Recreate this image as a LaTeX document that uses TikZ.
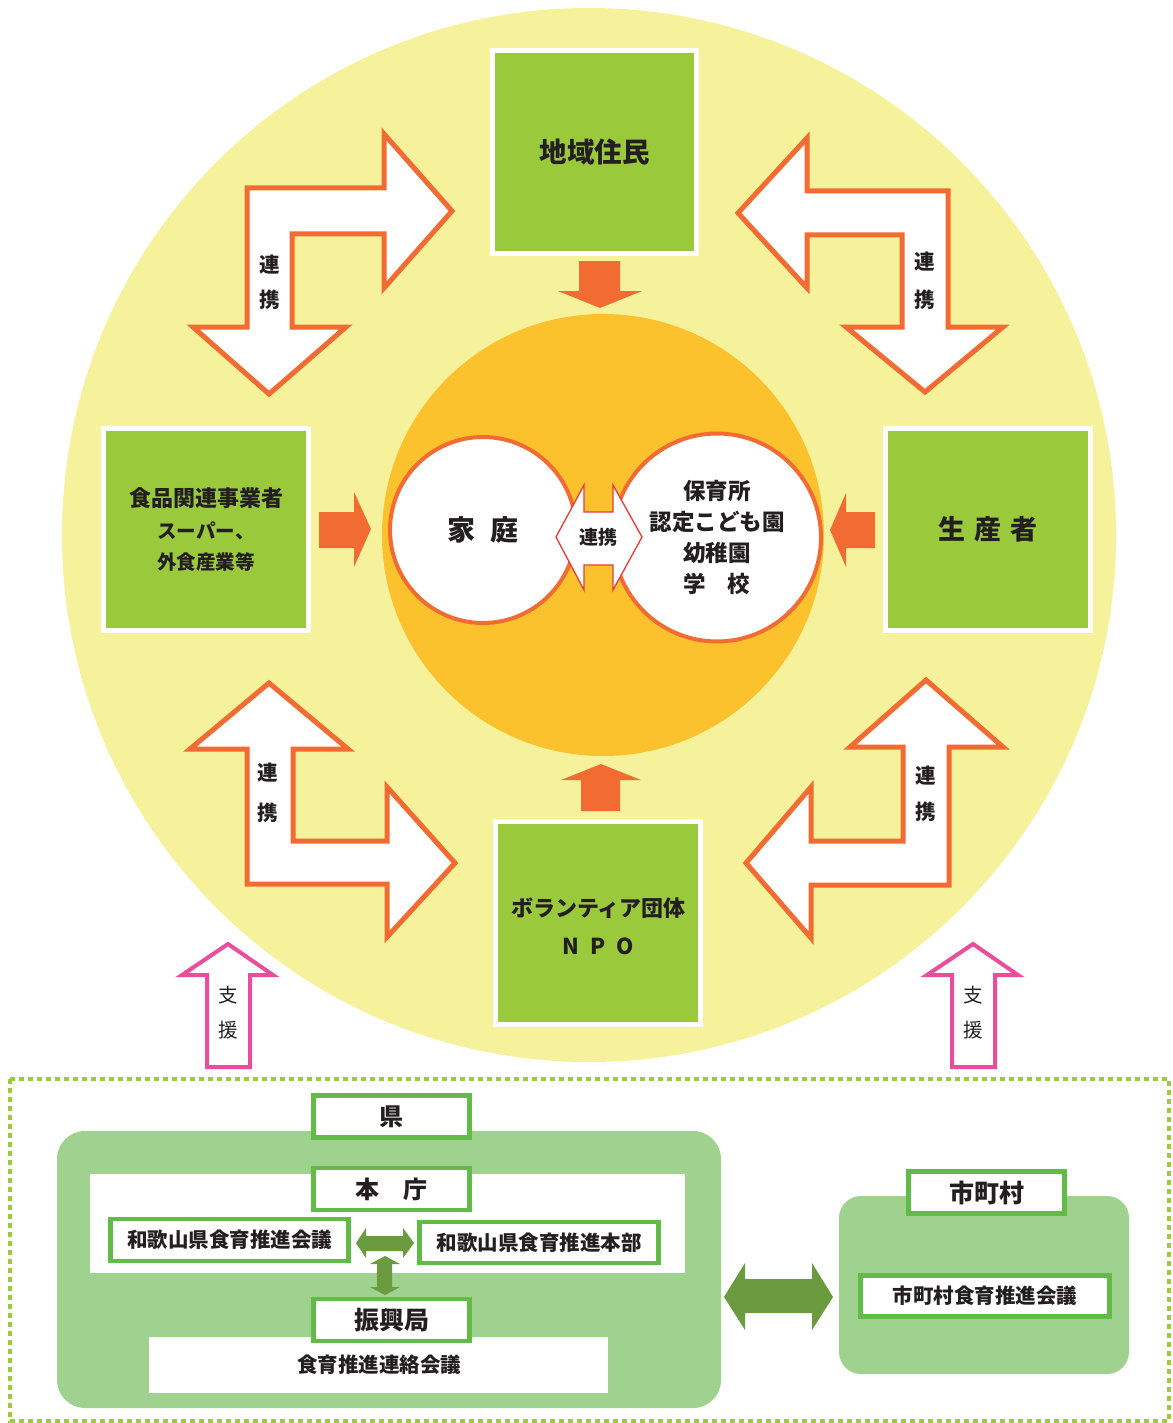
\documentclass[tikz,border=0pt]{standalone}
\usepackage{fontspec}
\newfontfamily\jp{Noto Sans CJK JP}
\definecolor{bigyellow}{HTML}{F6F19B}
\definecolor{sunorange}{HTML}{FCC22E}
\definecolor{edgeorange}{HTML}{F26B32}
\definecolor{boxgreen}{HTML}{9BC93C}
\definecolor{supportpink}{HTML}{E94D9B}
\definecolor{regiongreen}{HTML}{A0D28F}
\definecolor{framegreen}{HTML}{62BA47}
\definecolor{darkgreen}{HTML}{6A9B3F}
\definecolor{dashgreen}{HTML}{9CCB3B}
\definecolor{linkred}{HTML}{E83838}
\definecolor{ink}{HTML}{231F20}
\tikzset{
  greenbox/.style={draw=white, fill=boxgreen, line width=5pt, inner sep=0pt, text=ink, align=center},
  ring/.style={circle, draw=edgeorange, fill=white, line width=4pt, inner sep=0pt, text=ink, align=center},
  larrow/.style={draw=edgeorange, fill=white, line width=5pt, line join=miter},
  blockarrow/.style={fill=edgeorange},
  pinkarrow/.style={draw=supportpink, fill=white, line width=4pt, line join=miter},
  framebox/.style={draw=framegreen, fill=white, line width=4.5pt, inner sep=0pt, text=ink},
  gtxt/.style={text=ink, font=\jp\bfseries\fontsize{20.5}{22}\selectfont},
  stxt/.style={text=ink, font=\jp\fontsize{19.5}{22}\selectfont},
}
\begin{document}
\begin{tikzpicture}[x=1pt,y=-1pt]
\useasboundingbox (0,0) rectangle (1172,1423);
\fill[white] (0,0) rectangle (1172,1423);
% big circle and sun
\fill[bigyellow] (589,535) circle (527);
\fill[sunorange] (603,535) circle (221);
% inner circles
\node[ring, minimum size=186pt, font=\jp\bfseries\fontsize{28}{30}\selectfont] (home) at (483,530) {家\hspace{15pt}庭};
\node[ring, minimum size=208pt, font=\jp\bfseries\fontsize{22.5}{31}\selectfont] (school) at (717,537.5) {保育所\\認定こども園\\幼稚園\\学\hspace{22pt}校};
% central link arrow
\filldraw[draw=linkred, fill=white, line width=1.3pt] (556,537)--(584,485)--(584,512)--(613,512)--(613,485)--(642,537)--(613,590)--(613,565)--(584,565)--(584,590)--cycle;
\node[text=ink, font=\jp\bfseries\fontsize{19}{20}\selectfont] (linkc) at (598.5,537) {連携};
% green boxes
\node[greenbox, minimum width=204pt, minimum height=203pt, font=\jp\bfseries\fontsize{27.5}{30}\selectfont] (resid) at (594.5,152) {地域住民};
\node[greenbox, minimum width=205pt, minimum height=202pt, font=\jp\bfseries\fontsize{19.5}{31.5}\selectfont] (food) at (206,529.5) {{\fontsize{22}{31.5}\selectfont 食品関連事業者}\\スーパー、\\外食産業等};
\node[greenbox, minimum width=205pt, minimum height=202pt, font=\jp\bfseries\fontsize{27}{30}\selectfont] (prod) at (988,529.5) {生\hspace{9pt}産\hspace{9pt}者};
\node[greenbox, minimum width=205pt, minimum height=203pt] (npo) at (598,923) {};
\node[text=ink, font=\jp\bfseries\fontsize{22}{24}\selectfont] (npot) at (598.5,908) {ボランティア団体};
\node[text=ink, font=\jp\bfseries\fontsize{22}{24}\selectfont] (npon) at (598.5,946) {N\hspace{11pt}P\hspace{11pt}O};
% orange block arrows
\fill[blockarrow] (579,261)--(620,261)--(620,291)--(642,291)--(600,308)--(558,291)--(579,291)--cycle;
\fill[blockarrow] (319,512)--(354,512)--(354,492)--(371,529)--(354,567)--(354,548)--(319,548)--cycle;
\fill[blockarrow] (875,512)--(846,512)--(846,493)--(830,530)--(846,567)--(846,548)--(875,548)--cycle;
\fill[blockarrow] (581,811)--(620,811)--(620,780)--(641,780)--(601,764)--(561,780)--(581,780)--cycle;
% L-shaped link arrows
\filldraw[larrow] (247,188)--(384,188)--(384,134)--(452,211)--(384,288)--(384,234)--(292,234)--(292,327)--(346,327)--(269,394)--(193,327)--(247,327)--cycle;
\node[gtxt] (l1a) at (270,265) {連};
\node[gtxt] (l1b) at (270,300) {携};
\filldraw[larrow] (807,191)--(948,191)--(948,327)--(1003,327)--(925,392)--(846,327)--(902,327)--(902,235)--(807,235)--(807,288)--(738,213)--(807,138)--cycle;
\node[gtxt] (l2a) at (925,262) {連};
\node[gtxt] (l2b) at (925,300) {携};
\filldraw[larrow] (269,683)--(348,749)--(293,749)--(293,841)--(387,841)--(387,787)--(455,863)--(387,937)--(387,884)--(247,884)--(247,749)--(190,749)--cycle;
\node[gtxt] (l3a) at (268,773) {連};
\node[gtxt] (l3b) at (268,813) {携};
\filldraw[larrow] (926,680)--(1003,747)--(949,747)--(949,885)--(811,885)--(811,938)--(746,863)--(811,787)--(811,841)--(903,841)--(903,747)--(850,747)--cycle;
\node[gtxt] (l4a) at (926,776) {連};
\node[gtxt] (l4b) at (926,812) {携};
% support arrows
\filldraw[pinkarrow] (228,944)--(273,975)--(250,975)--(250,1067)--(207,1067)--(207,975)--(182,975)--cycle;
\node[stxt] (s1a) at (228.5,995) {支};
\node[stxt] (s1b) at (228.5,1030) {援};
\filldraw[pinkarrow] (973,944)--(1018,975)--(995,975)--(995,1067)--(952,1067)--(952,975)--(927,975)--cycle;
\node[stxt] (s2a) at (973.5,995) {支};
\node[stxt] (s2b) at (973.5,1030) {援};
% bottom frame
\draw[dashgreen, line width=4pt, dash pattern=on 5pt off 4pt] (10,1079) rectangle (1169,1421);
% prefecture region
\fill[regiongreen, rounded corners=28pt] (57,1131) rectangle (721,1408);
\fill[white] (90,1174) rectangle (685,1273);
\fill[white] (149,1337) rectangle (608,1393);
\node[framebox, minimum width=156pt, minimum height=42pt, font=\jp\bfseries\fontsize{24}{26}\selectfont] (ken) at (391.5,1116.5) {県};
\node[framebox, minimum width=156pt, minimum height=42pt, font=\jp\bfseries\fontsize{24}{26}\selectfont] (honcho) at (391.5,1189) {本\hspace{24pt}庁};
\node[framebox, minimum width=156pt, minimum height=42pt, font=\jp\bfseries\fontsize{25}{26}\selectfont] (shinko) at (391.5,1320) {振興局};
\node[framebox, minimum width=238pt, minimum height=42pt, font=\jp\bfseries\fontsize{20.5}{24}\selectfont] (kaigi) at (229.5,1240) {和歌山県食育推進会議};
\node[framebox, minimum width=239pt, minimum height=41pt, font=\jp\bfseries\fontsize{20.5}{24}\selectfont] (honbu) at (539,1242.5) {和歌山県食育推進本部};
\node[text=ink, font=\jp\bfseries\fontsize{20.5}{24}\selectfont] (renraku) at (379,1365) {食育推進連絡会議};
% small green arrows
\fill[darkgreen] (356,1243)--(366,1228)--(366,1236)--(403,1236)--(403,1228)--(414,1243)--(403,1258)--(403,1251)--(366,1251)--(366,1258)--cycle;
\fill[darkgreen] (385,1256)--(400,1264)--(392,1264)--(392,1287)--(400,1287)--(385,1295)--(370,1287)--(377,1287)--(377,1264)--(370,1264)--cycle;
% municipality region
\fill[regiongreen, rounded corners=22pt] (839,1196) rectangle (1129,1374);
\node[framebox, minimum width=156pt, minimum height=42pt, font=\jp\bfseries\fontsize{25}{26}\selectfont] (shicho) at (986.5,1192.5) {市町村};
\node[framebox, minimum width=249pt, minimum height=41pt, font=\jp\bfseries\fontsize{20.5}{24}\selectfont] (shikaigi) at (985,1296) {市町村食育推進会議};
% big green arrow
\fill[darkgreen] (724,1297)--(745,1263)--(745,1279)--(812,1279)--(812,1263)--(833,1297)--(812,1330)--(812,1313)--(745,1313)--(745,1330)--cycle;
\end{tikzpicture}
\end{document}
